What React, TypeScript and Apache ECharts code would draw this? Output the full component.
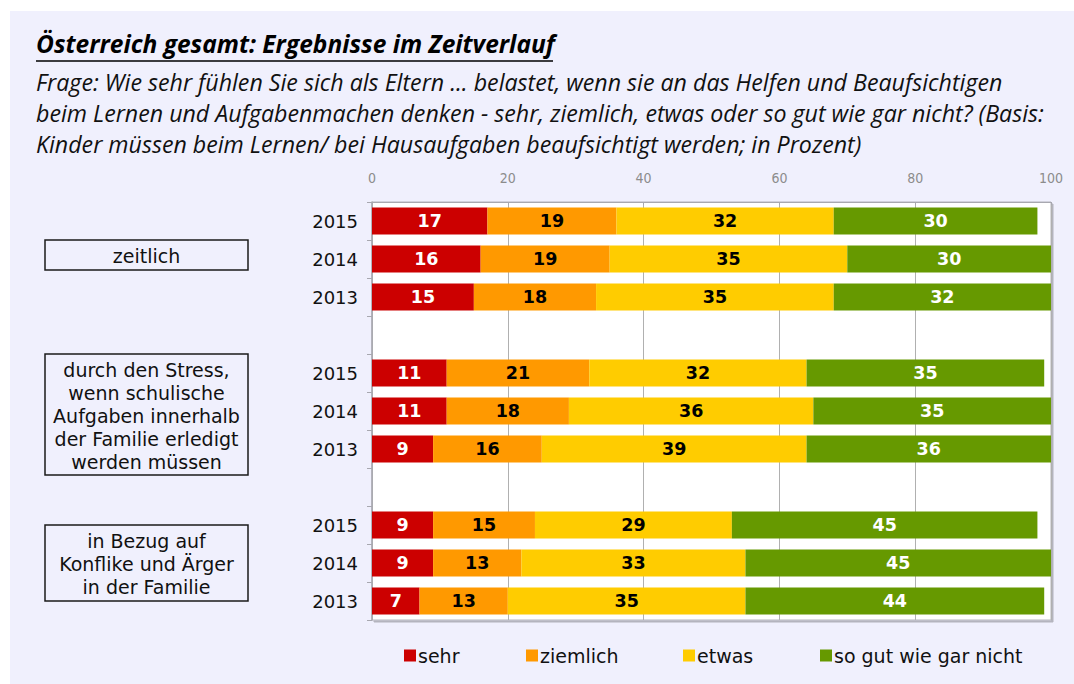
import React, { useEffect, useRef } from "react";
import * as echarts from "echarts";

const years = ["2015", "2014", "2013"];
const groups = [
  "zeitlich",
  "durch den Stress,\nwenn schulische\nAufgaben innerhalb\nder Familie erledigt\nwerden müssen",
  "in Bezug auf\nKonflike und Ärger\nin der Familie",
];
const seriesNames = ["sehr", "ziemlich", "etwas", "so gut wie gar nicht"];
const sehr = [17, 16, 15, 11, 11, 9, 9, 9, 7];
const ziemlich = [19, 19, 18, 21, 18, 16, 15, 13, 13];
const etwas = [32, 35, 35, 32, 36, 39, 29, 33, 35];
const garNicht = [30, 30, 32, 35, 35, 36, 45, 45, 44];
const xTicks = [0, 20, 40, 60, 80, 100];

const colors = ["#cc0000", "#ff9900", "#ffcc00", "#669900"];
const labelColors = ["#ffffff", "#000000", "#000000", "#ffffff"];

// build rows with a blank row between groups
const categories: string[] = [];
groups.forEach((g, gi) => {
  years.forEach((y) => categories.push(gi + "|" + y));
  if (gi < groups.length - 1) categories.push("gap" + gi);
});
function withGaps(vals: number[]) {
  const out: (number | null)[] = [];
  groups.forEach((g, gi) => {
    years.forEach((y, yi) => out.push(vals[gi * years.length + yi]));
    if (gi < groups.length - 1) out.push(null);
  });
  return out;
}
const allValues = [sehr, ziemlich, etwas, garNicht];

const LABEL_FONT = "'DejaVu Sans', Verdana, sans-serif";
const TITLE_FONT = "'Open Sans', 'Noto Sans', sans-serif";
const legendLefts = [404, 526, 683, 820];

export default function App() {
  const ref = useRef<HTMLDivElement>(null);
  useEffect(() => {
    document.body.style.margin = "0";
    const chart = echarts.init(ref.current!, null, { renderer: "svg" });
    const boxes = [
      { y: 240, h: 30 },
      { y: 354, h: 121 },
      { y: 525, h: 76 },
    ];
    chart.setOption({
      animation: false,
      backgroundColor: "#ffffff",
      color: colors,
      grid: {
        left: 372,
        top: 202,
        width: 679,
        height: 418,
        show: true,
        backgroundColor: "#ffffff",
        borderColor: "#b4b4bc",
        borderWidth: 1,
        shadowColor: "rgba(0,0,0,0.25)",
        shadowOffsetX: 2,
        shadowOffsetY: 2,
        shadowBlur: 1,
        containLabel: false,
      },
      xAxis: {
        type: "value",
        position: "top",
        min: xTicks[0],
        max: xTicks[xTicks.length - 1],
        interval: xTicks[1] - xTicks[0],
        axisLine: { show: true, lineStyle: { color: "#a8a8b0" } },
        axisTick: { show: true, inside: true, length: 3, lineStyle: { color: "#a8a8b0" } },
        splitLine: { show: true, lineStyle: { color: "#b0b0b0", width: 1 } },
        axisLabel: { color: "#8c8c8c", fontSize: 14, fontFamily: "'DejaVu Sans Condensed', 'DejaVu Sans', sans-serif", margin: 17 },
      },
      yAxis: {
        type: "category",
        inverse: true,
        data: categories,
        axisLine: { show: true, lineStyle: { color: "#a8a8b0", width: 1.5 } },
        axisTick: { show: true, length: 5, lineStyle: { color: "#a8a8b0" } },
        axisLabel: {
          fontSize: 18,
          color: "#111111",
          fontFamily: LABEL_FONT,
          margin: 14,
          formatter: (v: string) => (v.indexOf("|") >= 0 ? v.split("|")[1] : ""),
        },
      },
      legend: seriesNames.map((name, i) => ({
        left: legendLefts[i],
        top: 646,
        padding: 0,
        itemWidth: 12,
        itemHeight: 12,
        icon: "rect",
        data: [name],
        textStyle: { fontSize: 19, color: "#111111", fontFamily: LABEL_FONT, padding: [0, 0, 0, -3] },
      })),
      series: seriesNames.map((name, si) => ({
        name,
        type: "bar",
        stack: "total",
        barWidth: 27,
        data: withGaps(allValues[si]),
        itemStyle: { color: colors[si] },
        label: {
          show: true,
          position: "inside",
          color: labelColors[si],
          fontSize: 17.5,
          fontWeight: "bold",
          fontFamily: LABEL_FONT,
        },
      })),
      graphic: [
        {
          type: "rect",
          z: -10,
          silent: true,
          shape: { x: 10, y: 11, width: 1064, height: 673 },
          style: { fill: "#f0f0fd" },
        },
        {
          type: "text",
          left: 36,
          top: 31,
          style: {
            text: "Österreich gesamt: Ergebnisse im Zeitverlauf",
            font: "italic bold 24.5px " + TITLE_FONT,
            fill: "#000000",
          },
        },
        {
          type: "line",
          shape: { x1: 36, y1: 61, x2: 553, y2: 61 },
          style: { stroke: "#000000", lineWidth: 1.5 },
        },
        {
          type: "text",
          left: 36,
          top: 66,
          style: {
            text:
              "Frage: Wie sehr fühlen Sie sich als Eltern ... belastet, wenn sie an das Helfen und Beaufsichtigen\nbeim Lernen und Aufgabenmachen denken - sehr, ziemlich, etwas oder so gut wie gar nicht? (Basis:\nKinder müssen beim Lernen/ bei Hausaufgaben beaufsichtigt werden; in Prozent)",
            font: "italic 23.2px " + TITLE_FONT,
            lineHeight: 31,
            fill: "#111111",
          },
        },
        ...groups.map((g, gi) => ({
          type: "group",
          children: [
            {
              type: "rect",
              shape: { x: 45, y: boxes[gi].y, width: 203, height: boxes[gi].h },
              style: { fill: "none", stroke: "#1a1a1a", lineWidth: 1.5 },
            },
            {
              type: "text",
              x: 146.5,
              y: boxes[gi].y + boxes[gi].h / 2 + 1,
              style: {
                text: g,
                font: "19px " + LABEL_FONT,
                fill: "#111111",
                align: "center",
                verticalAlign: "middle",
                lineHeight: 23,
              },
            },
          ],
        })),
      ],
    });
    return () => chart.dispose();
  }, []);
  return <div ref={ref} style={{ width: 1074, height: 684 }} />;
}
